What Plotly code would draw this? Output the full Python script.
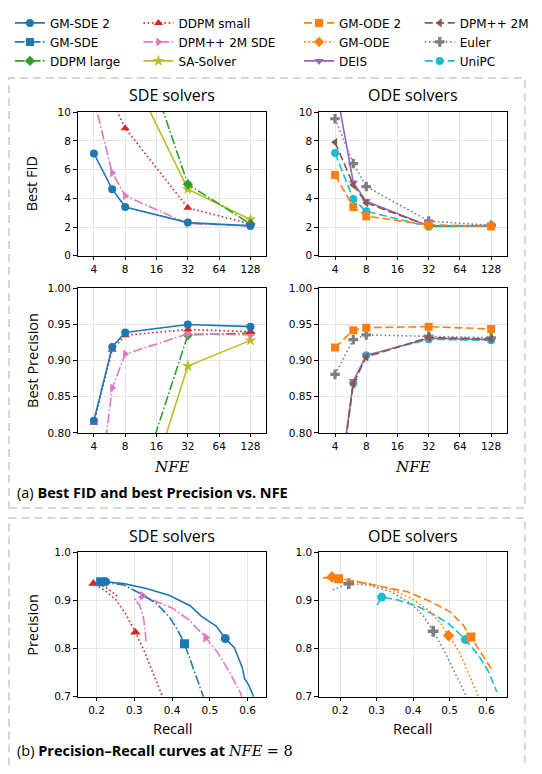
import plotly.graph_objects as go

# page is 542x774 with the browser's default 8px body margin -> figure 526x758 at (8, 8)
PAGE_W, PAGE_H, OFF = 542, 774, 8
W, H = PAGE_W - 2 * OFF, PAGE_H - 2 * OFF

# ---------------- data ----------------
NFE = [4, 6, 8, 32, 128]
NFE_TICKS = [4, 8, 16, 32, 64, 128]
NFE_TICKTEXT = ["4", "8", "16", "32", "64", "128"]

# Best FID vs NFE, SDE solvers
fid_gm_sde2 = [7.12, 4.64, 3.40, 2.31, 2.08]
fid_ddpm_small = [16.0, 10.8, 8.88, 3.34, 2.22]
fid_dpmpp_sde = [10.9, 5.78, 4.18, 2.24, 2.10]
fid_ddpm_large = [None, None, 17.9, 4.98, 2.22]
fid_sa_solver = [None, None, 13.6, 4.64, 2.53]

# Best FID vs NFE, ODE solvers
fid_gm_ode2 = [5.62, 3.40, 2.76, 2.15, 2.05]
fid_dpmpp_2m = [7.90, 4.93, 3.68, 2.08, 2.05]
fid_euler = [9.54, 6.42, 4.82, 2.42, 2.12]
fid_deis = [12.1, 5.09, 3.79, 2.08, 2.10]
fid_unipc = [7.15, 3.95, 3.10, 2.03, 2.08]

# Best Precision vs NFE, SDE solvers
prec_gm_sde2 = [0.817, 0.919, 0.939, 0.950, 0.947]
prec_ddpm_small = [0.814, 0.915, 0.935, 0.943, 0.940]
prec_dpmpp_sde = [0.66, 0.862, 0.909, 0.937, 0.9355]
prec_ddpm_large = [None, None, 0.67, 0.9355, 0.938]
prec_sa_solver = [None, None, 0.62, 0.8925, 0.928]

# Best Precision vs NFE, ODE solvers
prec_gm_ode2 = [0.918, 0.942, 0.9456, 0.947, 0.9438]
prec_euler = [0.881, 0.929, 0.9356, 0.934, 0.9315]
prec_deis = [0.68, 0.872, 0.907, 0.931, 0.929]
prec_dpmpp_2m = [0.68, 0.868, 0.905, 0.932, 0.930]
prec_unipc = [0.68, 0.869, 0.9075, 0.9295, 0.928]

# Precision-Recall curves at NFE = 8, SDE solvers
pr_gm_sde2_r = [0.224, 0.272, 0.332, 0.392, 0.448, 0.478, 0.517, 0.541, 0.565, 0.578, 0.586, 0.592, 0.603, 0.615, 0.62]
pr_gm_sde2_p = [0.939, 0.935, 0.925, 0.911, 0.889, 0.867, 0.847, 0.821, 0.802, 0.779, 0.761, 0.738, 0.724, 0.702, 0.69]
pr_gm_sde2_marks = [0, 7]

pr_gm_sde_r = [0.211, 0.272, 0.315, 0.358, 0.392, 0.414, 0.433, 0.448, 0.466, 0.483, 0.487]
pr_gm_sde_p = [0.939, 0.932, 0.915, 0.894, 0.867, 0.840, 0.810, 0.779, 0.738, 0.700, 0.69]
pr_gm_sde_marks = [0, 6]

pr_ddpm_small_r = [0.255, 0.230, 0.205, 0.192, 0.205, 0.222, 0.250, 0.276, 0.303, 0.328, 0.349, 0.375, 0.380]
pr_ddpm_small_p = [0.909, 0.925, 0.934, 0.935, 0.929, 0.921, 0.903, 0.874, 0.834, 0.792, 0.751, 0.703, 0.690]
pr_ddpm_small_marks = [3, 8]

pr_dpmpp_sde_r = [0.331, 0.328, 0.323, 0.314, 0.302, 0.3215, 0.358, 0.401, 0.444, 0.489, 0.521, 0.552, 0.582, 0.587]
pr_dpmpp_sde_p = [0.815, 0.845, 0.870, 0.890, 0.902, 0.910, 0.898, 0.884, 0.860, 0.823, 0.792, 0.751, 0.707, 0.69]
pr_dpmpp_sde_marks = [5, 9]

# Precision-Recall curves at NFE = 8, ODE solvers
pr_gm_ode2_r = [0.154, 0.196, 0.260, 0.323, 0.385, 0.447, 0.500, 0.536, 0.558, 0.589, 0.620]
pr_gm_ode2_p = [0.9475, 0.945, 0.937, 0.928, 0.918, 0.898, 0.877, 0.850, 0.824, 0.785, 0.751]
pr_gm_ode2_marks = [1, 8]

pr_gm_ode_r = [0.178, 0.234, 0.287, 0.340, 0.394, 0.447, 0.478, 0.497, 0.527, 0.554, 0.580, 0.585]
pr_gm_ode_p = [0.949, 0.942, 0.934, 0.923, 0.905, 0.877, 0.850, 0.827, 0.792, 0.744, 0.700, 0.69]
pr_gm_ode_marks = [0, 7]

pr_euler_r = [0.180, 0.224, 0.278, 0.340, 0.394, 0.429, 0.455, 0.483, 0.509, 0.532, 0.549, 0.553]
pr_euler_p = [0.922, 0.935, 0.932, 0.918, 0.894, 0.867, 0.836, 0.799, 0.758, 0.724, 0.700, 0.69]
pr_euler_marks = [1, 6]

pr_unipc_r = [0.302, 0.314, 0.358, 0.412, 0.465, 0.500, 0.543, 0.580, 0.607, 0.629]
pr_unipc_p = [0.891, 0.907, 0.901, 0.888, 0.867, 0.850, 0.819, 0.785, 0.751, 0.710]
pr_unipc_marks = [1, 6]

# ---------------- styles ----------------
DASH = "8px,3.5px"
DOT = "1.6px,2.6px"
DASHDOT = "9.6px,2.4px,1.6px,2.4px"
STY = {
    "GM-SDE 2": ("#1f77b4", "solid", "circle", 8),
    "GM-SDE": ("#1f77b4", DASHDOT, "square", 8),
    "DDPM large": ("#2ca02c", DASHDOT, "diamond", 8),
    "DDPM small": ("#d62728", DOT, "triangle-up", 8),
    "DPM++ 2M SDE": ("#e377c2", DASHDOT, "triangle-right", 8),
    "SA-Solver": ("#bcbd22", "solid", "star", 9),
    "GM-ODE 2": ("#ff7f0e", DASH, "square", 8),
    "GM-ODE": ("#ff7f0e", DOT, "diamond", 8),
    "DEIS": ("#9467bd", "solid", "triangle-down", 8),
    "DPM++ 2M": ("#8c564b", DASH, "triangle-left", 8),
    "Euler": ("#7f7f7f", DOT, "cross", 8),
    "UniPC": ("#17becf", DASH, "circle", 8),
}
LW = 1.6


def X(px):
    return (px - OFF) / W


def Y(py):
    return 1 - (py - OFF) / H


fig = go.Figure()


def line_markers(x, y, name, ax):
    c, d, s, ms = STY[name]
    fig.add_trace(go.Scatter(
        x=x, y=y, mode="lines+markers", showlegend=False,
        line=dict(color=c, dash=d, width=LW),
        marker=dict(symbol=s, size=ms, color=c),
        xaxis="x" + ax, yaxis="y" + ax, hoverinfo="skip"))


def pr_curve(r, p, marks, name, ax):
    c, d, s, ms = STY[name]
    fig.add_trace(go.Scatter(
        x=r, y=p, mode="lines", showlegend=False,
        line=dict(color=c, dash=d, width=LW),
        xaxis="x" + ax, yaxis="y" + ax, hoverinfo="skip"))
    fig.add_trace(go.Scatter(
        x=[r[i] for i in marks], y=[p[i] for i in marks], mode="markers",
        showlegend=False, marker=dict(symbol=s, size=ms + 1, color=c),
        xaxis="x" + ax, yaxis="y" + ax, hoverinfo="skip"))


# panel 1: FID SDE
for name, ys in [("SA-Solver", fid_sa_solver), ("DDPM large", fid_ddpm_large),
                 ("DDPM small", fid_ddpm_small), ("DPM++ 2M SDE", fid_dpmpp_sde),
                 ("GM-SDE 2", fid_gm_sde2)]:
    line_markers(NFE, ys, name, "")
# panel 2: FID ODE
for name, ys in [("Euler", fid_euler), ("DEIS", fid_deis), ("DPM++ 2M", fid_dpmpp_2m),
                 ("UniPC", fid_unipc), ("GM-ODE 2", fid_gm_ode2)]:
    line_markers(NFE, ys, name, "2")
# panel 3: Precision SDE
for name, ys in [("SA-Solver", prec_sa_solver), ("DDPM large", prec_ddpm_large),
                 ("DPM++ 2M SDE", prec_dpmpp_sde), ("DDPM small", prec_ddpm_small),
                 ("GM-SDE 2", prec_gm_sde2)]:
    line_markers(NFE, ys, name, "3")
# panel 4: Precision ODE
for name, ys in [("Euler", prec_euler), ("UniPC", prec_unipc), ("DEIS", prec_deis),
                 ("DPM++ 2M", prec_dpmpp_2m), ("GM-ODE 2", prec_gm_ode2)]:
    line_markers(NFE, ys, name, "4")
# panel 5: PR SDE
pr_curve(pr_ddpm_small_r, pr_ddpm_small_p, pr_ddpm_small_marks, "DDPM small", "5")
pr_curve(pr_dpmpp_sde_r, pr_dpmpp_sde_p, pr_dpmpp_sde_marks, "DPM++ 2M SDE", "5")
pr_curve(pr_gm_sde_r, pr_gm_sde_p, pr_gm_sde_marks, "GM-SDE", "5")
pr_curve(pr_gm_sde2_r, pr_gm_sde2_p, pr_gm_sde2_marks, "GM-SDE 2", "5")
# panel 6: PR ODE
pr_curve(pr_euler_r, pr_euler_p, pr_euler_marks, "Euler", "6")
pr_curve(pr_unipc_r, pr_unipc_p, pr_unipc_marks, "UniPC", "6")
pr_curve(pr_gm_ode_r, pr_gm_ode_p, pr_gm_ode_marks, "GM-ODE", "6")
pr_curve(pr_gm_ode2_r, pr_gm_ode2_p, pr_gm_ode2_marks, "GM-ODE 2", "6")

# legend entries (4 columns)
LEG_COLS = [
    ["GM-SDE 2", "GM-SDE", "DDPM large"],
    ["DDPM small", "DPM++ 2M SDE", "SA-Solver"],
    ["GM-ODE 2", "GM-ODE", "DEIS"],
    ["DPM++ 2M", "Euler", "UniPC"],
]
leg_ids = ["legend", "legend2", "legend3", "legend4"]
for lid, col in zip(leg_ids, LEG_COLS):
    for name in col:
        c, d, s, ms = STY[name]
        fig.add_trace(go.Scatter(
            x=[None], y=[None], mode="lines+markers", name=name, legend=lid,
            line=dict(color=c, dash=d, width=LW),
            marker=dict(symbol=s, size=ms, color=c), xaxis="x", yaxis="y"))

TICKFONT = dict(family="DejaVu Sans", size=10.5, color="black")
common = dict(showline=True, linecolor="black", linewidth=1, mirror=True,
              ticks="outside", ticklen=3.5, tickcolor="black", tickwidth=1,
              showgrid=True, gridcolor="#e6e6e6", gridwidth=1, zeroline=False,
              tickfont=TICKFONT)

LX = [X(79.5), X(273.5)]
RX = [X(327.3), X(520.7)]
ROW1 = [Y(253.7), Y(107.7)]
ROW2 = [Y(433.7), Y(286.7)]
ROW3 = [Y(701.7), Y(555)]
NFE_RANGE = [0.4455, 2.2607]

xnfe = dict(common, type="log", range=NFE_RANGE, tickvals=NFE_TICKS, ticktext=NFE_TICKTEXT)
fig.update_layout(
    xaxis=dict(xnfe, domain=LX, anchor="y"),
    yaxis=dict(common, domain=ROW1, anchor="x", range=[0, 10], dtick=2),
    xaxis2=dict(xnfe, domain=RX, anchor="y2"),
    yaxis2=dict(common, domain=ROW1, anchor="x2", range=[0, 10], dtick=2),
    xaxis3=dict(xnfe, domain=LX, anchor="y3"),
    yaxis3=dict(common, domain=ROW2, anchor="x3", range=[0.8, 1.0], dtick=0.05, tickformat=".2f"),
    xaxis4=dict(xnfe, domain=RX, anchor="y4"),
    yaxis4=dict(common, domain=ROW2, anchor="x4", range=[0.8, 1.0], dtick=0.05, tickformat=".2f"),
    xaxis5=dict(common, domain=LX, anchor="y5", range=[0.15, 0.65], dtick=0.1, tickformat=".1f"),
    yaxis5=dict(common, domain=ROW3, anchor="x5", range=[0.7, 1.0], dtick=0.1, tickformat=".1f"),
    xaxis6=dict(common, domain=RX, anchor="y6", range=[0.142, 0.657], dtick=0.1, tickformat=".1f"),
    yaxis6=dict(common, domain=ROW3, anchor="x6", range=[0.7, 1.0], dtick=0.1, tickformat=".1f"),
)

legx = [10, 142, 307, 431]
legs = {}
for lid, lx in zip(leg_ids, legx):
    legs[lid] = dict(x=X(lx), y=Y(2.3), xanchor="left", yanchor="top", orientation="v",
                     bgcolor="rgba(0,0,0,0)", tracegroupgap=0, itemwidth=30,
                     font=dict(family="DejaVu Sans", size=12, color="black"))
fig.update_layout(**legs)

TF = "Open Sans"
ann = []


def note(text, px, py, size=14.5, angle=0, xanchor="center", family=TF):
    ann.append(dict(text=text, x=X(px), y=Y(py), xref="paper", yref="paper",
                    showarrow=False, xanchor=xanchor, yanchor="middle", textangle=angle,
                    font=dict(family=family, size=size, color="black")))


note("SDE solvers", 176.5, 90, size=16)
note("ODE solvers", 424, 90, size=16)
note("SDE solvers", 176.5, 538, size=16)
note("ODE solvers", 424, 538, size=16)
note("Best FID", 33, 180.7, angle=-90)
note("Best Precision", 33, 360.2, angle=-90)
note("Precision", 33, 628.3, angle=-90)
note("<i>NFE</i>", 176.5, 468.7, size=15, family="DejaVu Serif")
note("<i>NFE</i>", 424, 468.7, size=15, family="DejaVu Serif")
note("Recall", 176.5, 734)
note("Recall", 424, 734)
note("(a) <b>Best FID and best Precision vs. NFE</b>", 15, 494.7, xanchor="left")
note("(b) <b>Precision–Recall curves at </b>"
     "<span style='font-family:DejaVu Serif'><i>NFE</i> = 8</span>", 15, 756.7, xanchor="left")

box_line = dict(color="#d6d6d6", width=2, dash="8px,5px")
shapes = [
    dict(type="rect", xref="paper", yref="paper", x0=X(9), x1=X(539), y0=Y(510), y1=Y(73),
         line=box_line, layer="below"),
    dict(type="rect", xref="paper", yref="paper", x0=X(9), x1=X(539), y0=Y(800), y1=Y(520),
         line=box_line, layer="below"),
]

fig.update_layout(
    width=W, height=H, margin=dict(l=0, r=0, t=0, b=0),
    paper_bgcolor="white", plot_bgcolor="white",
    annotations=ann, shapes=shapes,
    font=dict(family="DejaVu Sans", color="black"),
)

fig.write_html("out.html", config={"displayModeBar": False})
